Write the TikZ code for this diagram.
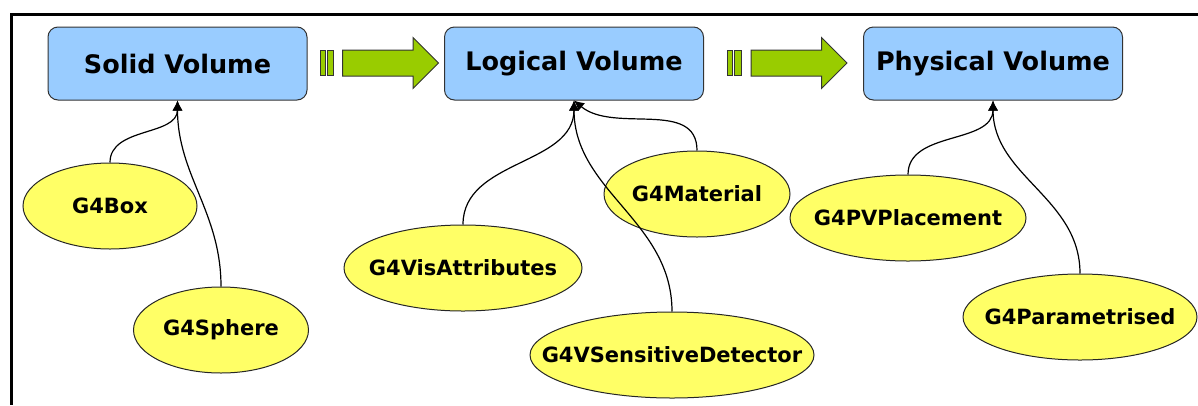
\documentclass[tikz,border=0pt]{standalone}
\usepackage{fontspec}
\setmainfont{DejaVu Sans}
\usepackage{xcolor}
\usetikzlibrary{arrows.meta,shapes.geometric,shapes.arrows}

\definecolor{volblue}{RGB}{153,204,255}
\definecolor{clsyellow}{RGB}{255,255,102}
\definecolor{fatgreen}{RGB}{153,204,0}

\newcommand{\clsname}[1]{\makebox[0pt]{#1}}

\begin{document}
\begin{tikzpicture}[
  x=1pt, y=1pt,
  vol/.style={draw=black!80, fill=volblue, rounded corners=10pt, line width=1pt, minimum width=259pt, minimum height=73pt, font=\fontsize{25.5}{30}\selectfont\bfseries},
  cls/.style={draw=black!85, fill=clsyellow, ellipse, inner sep=0pt, line width=1pt, minimum height=86pt, font=\fontsize{21}{25}\selectfont\bfseries},
  fat/.style={single arrow, draw=black!80, fill=fatgreen, line width=1pt, inner xsep=0pt, inner ysep=12.5pt, minimum height=96pt, minimum width=50pt, single arrow head extend=12.5pt},
  bar/.style={draw=black!80, fill=fatgreen, line width=1pt, inner sep=0pt, minimum height=25pt},
  link/.style={-{Latex[length=10pt,width=10pt]}, line width=1.2pt}]

\useasboundingbox (0,0) rectangle (1198,-405);
\draw[line width=3pt] (1198,-14.5) -| (11,-405);

\node[vol] (solid) at (177.5,-63.5) {Solid Volume};
\node[vol] (logical) at (574,-63.5) {Logical Volume};
\node[vol] (physical) at (993,-63.5) {Physical Volume};

\node[bar, minimum width=5pt] (bar1a) at (322.5,-63) {};
\node[bar, minimum width=6pt] (bar1b) at (330,-63) {};
\node[fat] (fat1) at (384,-63) {};
\node[bar, minimum width=5pt] (bar2a) at (729.5,-63) {};
\node[bar, minimum width=7pt] (bar2b) at (738,-63) {};
\node[fat] (fat2) at (792.5,-63) {};

\node[cls, minimum width=174pt] (box) at (110,-206) {\clsname{G4Box}};
\node[cls, minimum width=175pt] (sphere) at (221,-330) {\clsname{G4Sphere}};
\node[cls, minimum width=238pt] (visattr) at (463,-268) {\clsname{G4VisAttributes}};
\node[cls, minimum width=186pt] (material) at (697,-194) {\clsname{G4Material}};
\node[cls, minimum width=284pt] (sensdet) at (672,-355) {\clsname{G4VSensitiveDetector}};
\node[cls, minimum width=236pt] (pvplace) at (908,-218) {\clsname{G4PVPlacement}};
\node[cls, minimum width=234pt] (param) at (1080,-317) {\clsname{G4Parametrised}};

\draw[link] (box.north) to[out=90, in=-90] (solid.south);
\draw[link] (sphere.north) to[out=90, in=-90] (solid.south);
\draw[link] (visattr.north) to[out=90, in=-90] (logical.south);
\draw[link] (material.north) to[out=90, in=-40] (logical.south);
\draw[link] (sensdet.north) to[out=90, in=-90] (logical.south);
\draw[link] (pvplace.north) to[out=90, in=-90] (physical.south);
\draw[link] (param.north) to[out=90, in=-90] (physical.south);
\end{tikzpicture}
\end{document}
